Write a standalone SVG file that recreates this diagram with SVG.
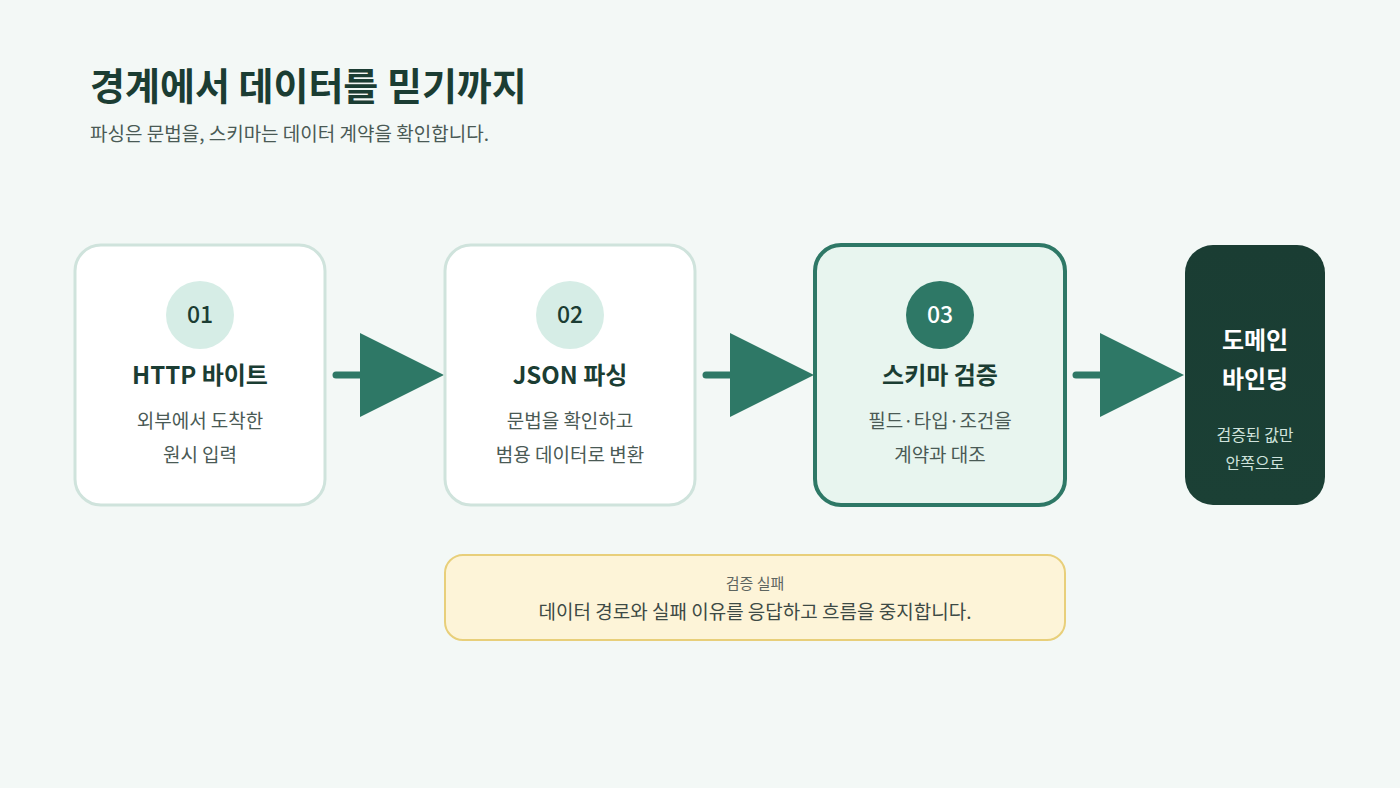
<svg xmlns="http://www.w3.org/2000/svg" width="1400" height="788" viewBox="0 0 1400 788">
<defs>
<style>
text{font-family:"Noto Sans CJK KR","Noto Sans",sans-serif;text-anchor:middle}
.card{fill:#ffffff;stroke:#cfe3dc;stroke-width:3}
.num{font-size:23px;font-weight:500;fill:#1b3d33}
.ttl{font-size:24px;font-weight:700;fill:#1b3d33}
.sub{font-size:19px;fill:#4a5a55}
.arr{fill:#2e7866}
.ln{stroke:#2e7866;stroke-width:7;stroke-linecap:round}
</style>
<linearGradient id="dk" x1="0" y1="0" x2="0" y2="1"><stop offset="0" stop-color="#1a3d33"/><stop offset="1" stop-color="#1b4035"/></linearGradient>
</defs>
<rect width="1400" height="788" fill="#f3f8f6"/>
<g id="title">
<text x="90" y="100" style="text-anchor:start;font-size:38px;font-weight:700;fill:#1b3d33">경계에서 데이터를 믿기까지</text>
<text x="90" y="141" style="text-anchor:start;font-size:19px;fill:#4a5a55">파싱은 문법을, 스키마는 데이터 계약을 확인합니다.</text>
</g>
<g id="connectors">
<line class="ln" x1="336" y1="375" x2="362" y2="375"/><polygon class="arr" points="360,333 444,375 360,417"/>
<line class="ln" x1="706" y1="375" x2="732" y2="375"/><polygon class="arr" points="730,333 814,375 730,417"/>
<line class="ln" x1="1076" y1="375" x2="1102" y2="375"/><polygon class="arr" points="1100,333 1184,375 1100,417"/>
</g>
<g id="n1">
<rect class="card" x="75" y="245" width="250" height="260" rx="26"/>
<circle cx="200" cy="315" r="34" fill="#d6ede6"/>
<text class="num" x="200" y="323">01</text>
<text class="ttl" x="200" y="384">HTTP 바이트</text>
<text class="sub" x="200" y="428">외부에서 도착한</text>
<text class="sub" x="200" y="462">원시 입력</text>
</g>
<g id="n2">
<rect class="card" x="445" y="245" width="250" height="260" rx="26"/>
<circle cx="570" cy="315" r="34" fill="#d6ede6"/>
<text class="num" x="570" y="323">02</text>
<text class="ttl" x="570" y="384">JSON 파싱</text>
<text class="sub" x="570" y="428">문법을 확인하고</text>
<text class="sub" x="570" y="462">범용 데이터로 변환</text>
</g>
<g id="n3">
<rect x="815" y="245" width="250" height="260" rx="26" fill="#e8f5ef" stroke="#2e7866" stroke-width="4"/>
<circle cx="940" cy="315" r="34" fill="#2e7866"/>
<text class="num" x="940" y="323" style="fill:#ffffff">03</text>
<text class="ttl" x="940" y="384">스키마 검증</text>
<text class="sub" x="940" y="428">필드·타입·조건을</text>
<text class="sub" x="940" y="462">계약과 대조</text>
</g>
<g id="n4">
<rect x="1185" y="245" width="140" height="260" rx="28" fill="url(#dk)"/>
<text x="1255" y="349" style="font-size:24px;font-weight:700;fill:#ffffff">도메인</text>
<text x="1255" y="388" style="font-size:24px;font-weight:700;fill:#ffffff">바인딩</text>
<text x="1255" y="441" style="font-size:16px;fill:#cfe3dc">검증된 값만</text>
<text x="1255" y="469" style="font-size:16px;fill:#cfe3dc">안쪽으로</text>
</g>
<g id="fail">
<rect x="445" y="555" width="620" height="85" rx="18" fill="#fdf4d8" stroke="#e8cf7a" stroke-width="2"/>
<text x="755" y="589" style="font-size:15px;fill:#5d6560">검증 실패</text>
<text x="755" y="619" style="font-size:19px;fill:#3d4a45">데이터 경로와 실패 이유를 응답하고 흐름을 중지합니다.</text>
</g>
</svg>
